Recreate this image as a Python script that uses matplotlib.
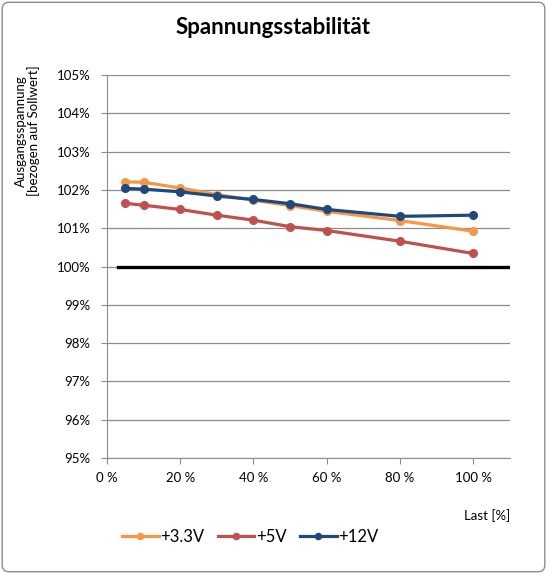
import matplotlib
matplotlib.use('Agg')
import matplotlib.pyplot as plt
from matplotlib.patches import FancyBboxPatch

# Last in %
last = [5, 10, 20, 30, 40, 50, 60, 80, 100]
v33 = [102.21, 102.20, 102.05, 101.88, 101.73, 101.59, 101.44, 101.20, 100.92]
v5 = [101.65, 101.60, 101.49, 101.34, 101.21, 101.04, 100.94, 100.66, 100.34]
v12 = [102.04, 102.02, 101.95, 101.84, 101.75, 101.64, 101.49, 101.31, 101.34]
ref_x = [3, 110]
ref_y = [100, 100]

xticks = [0, 20, 40, 60, 80, 100]
yticks = list(range(95, 106))

plt.rcParams['font.family'] = ['Lato', 'DejaVu Sans']

fig = plt.figure(figsize=(5.47, 5.74), dpi=100)
ax = fig.add_axes([0.1956, 0.2021, 0.7364, 0.6672])

fig.patches.append(FancyBboxPatch((0.004, 0.004), 0.992, 0.992,
                                  boxstyle="round,pad=0,rounding_size=0.012",
                                  transform=fig.transFigure, fill=False,
                                  edgecolor='#8c8c8c', linewidth=1))

ax.plot(ref_x, ref_y, color='black', linewidth=2.4, zorder=2)
ax.plot(last, v33, color='#F79646', marker='o', markersize=5.5, linewidth=2.3, label='+3.3V', zorder=3)
ax.plot(last, v5, color='#C0504D', marker='o', markersize=5.5, linewidth=2.3, label='+5V', zorder=3)
ax.plot(last, v12, color='#1F497D', marker='o', markersize=5.5, linewidth=2.3, label='+12V', zorder=4)

ax.set_xlim(0, 110)
ax.set_ylim(95, 105)
ax.set_xticks(xticks)
ax.set_xticklabels([f"{t} %" for t in xticks], fontsize=9.5)
ax.set_yticks(yticks)
ax.set_yticklabels([f"{t}%" for t in yticks], fontsize=9.5)
ax.grid(True, axis='y', color='#8c8c8c', linewidth=0.9)
ax.set_axisbelow(True)

for s in ['top', 'right']:
    ax.spines[s].set_visible(False)
for s in ['left', 'bottom']:
    ax.spines[s].set_color('#8c8c8c')
ax.tick_params(axis='both', color='#8c8c8c', length=4, direction='out')
ax.tick_params(axis='y', pad=8)
ax.tick_params(axis='x', pad=6)

fig.text(0.5, 0.952, "Spannungsstabilität", ha='center', va='center',
         fontsize=16, fontweight='bold')
fig.text(0.05, 0.772, "Ausgangsspannung\n[bezogen auf Sollwert]", rotation=90,
         ha='center', va='center', fontsize=9.5, linespacing=1.05)
fig.text(0.932, 0.102, "Last [%]", ha='right', va='center', fontsize=9.5)

ax.legend(loc='center left', bbox_to_anchor=(0.0, -0.205), ncol=3, frameon=False,
          fontsize=12, handlelength=2.2, handletextpad=0.1, columnspacing=0.8,
          markerscale=0.8)

fig.savefig('out.png', dpi=100)
